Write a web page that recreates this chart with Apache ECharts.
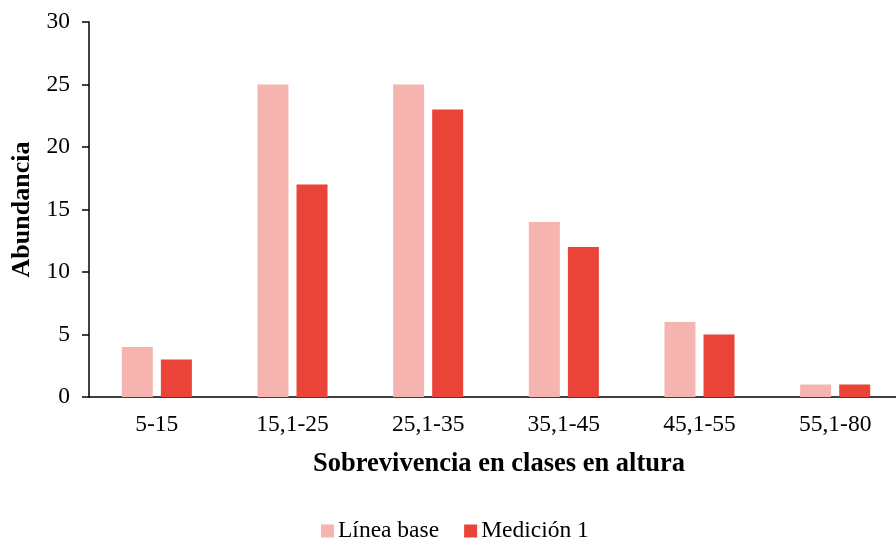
<!DOCTYPE html>
<html>
<head>
<meta charset="utf-8">
<script src="https://cdn.jsdelivr.net/npm/echarts@6/dist/echarts.min.js"></script>
<style>
  html, body { margin: 0; padding: 0; background: #fff; }
  #chart { width: 896px; height: 543px; }
</style>
</head>
<body>
<div id="chart"></div>
<script>
// Height classes and abundance counts
const categories = ['5-15', '15,1-25', '25,1-35', '35,1-45', '45,1-55', '55,1-80'];
const lineaBase = [4, 25, 25, 14, 6, 1];
const medicion1 = [3, 17, 23, 12, 5, 1];
const seriesNames = ['Línea base', 'Medición 1'];

const font = '"Liberation Serif", "Times New Roman", serif';
const chart = echarts.init(document.getElementById('chart'));

chart.setOption({
  animation: false,
  textStyle: { fontFamily: font, color: '#000' },
  grid: { left: 89, right: -7, top: 22, bottom: 146, containLabel: false, outerBoundsMode: 'none' },
  legend: {
    bottom: 0,
    left: 321,
    padding: 0,
    icon: 'rect',
    itemWidth: 13,
    itemHeight: 13,
    itemGap: 25,
    textStyle: { fontFamily: font, fontSize: 23.5, color: '#000', padding: [0, 0, 0, -1] },
    data: seriesNames
  },
  xAxis: {
    type: 'category',
    data: categories,
    name: 'Sobrevivencia en clases en altura',
    nameLocation: 'middle',
    nameGap: 54,
    nameTextStyle: { fontFamily: font, fontSize: 26.5, fontWeight: 'bold', color: '#000', padding: [0, 0, 0, 6] },
    axisLine: { lineStyle: { color: '#000', width: 1.5 } },
    axisTick: { alignWithLabel: true, length: 5, lineStyle: { color: '#000', width: 1.5 } },
    axisLabel: { fontFamily: font, fontSize: 23.5, color: '#000', margin: 16 }
  },
  yAxis: {
    type: 'value',
    min: 0,
    max: 30,
    interval: 5,
    name: 'Abundancia',
    nameLocation: 'middle',
    nameGap: 54,
    nameTextStyle: { fontFamily: font, fontSize: 26, fontWeight: 'bold', color: '#000' },
    axisLine: { show: true, lineStyle: { color: '#000', width: 1.5 } },
    axisTick: { show: true, length: 7, lineStyle: { color: '#000', width: 1.5 } },
    axisLabel: { fontFamily: font, fontSize: 23.5, color: '#000', margin: 19 },
    splitLine: { show: false }
  },
  series: [
    {
      name: seriesNames[0],
      type: 'bar',
      data: lineaBase,
      barWidth: 31,
      barGap: '26%',
      itemStyle: { color: '#F5B4AF' }
    },
    {
      name: seriesNames[1],
      type: 'bar',
      data: medicion1,
      barWidth: 31,
      itemStyle: { color: '#EA4337' }
    }
  ]
});
</script>
</body>
</html>
